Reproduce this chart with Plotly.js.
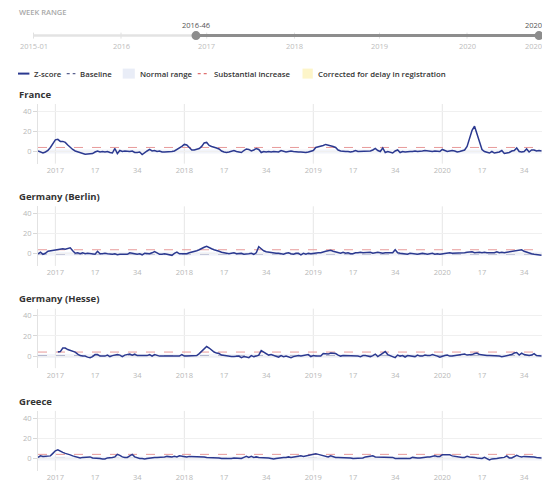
<!DOCTYPE html>
<html><head><meta charset="utf-8">
<script src="https://cdn.plot.ly/plotly-3.0.1.min.js"></script>
<style>html,body{margin:0;padding:0;background:#fff;overflow:hidden}#chart{width:542px;height:480px}</style>
</head><body><div id="chart"></div>
<script>
// ---- data ----
const countries = ['France', 'Germany (Berlin)', 'Germany (Hesse)', 'Greece'];
const franceZ = [
 0.5,-0.5,-1.5,-0.5,1,4,8,11.5,12,10,
 10,9,6.5,4,2,0.5,-0.5,-1.5,-2.5,-2.8,
 -2.5,-2.5,-2,-0.5,0.5,-0.5,0,-0.5,0,-1,
 -1.5,3,-2,1,0,0.5,0,0,0.5,-1,
 -1,-0.5,-3,-1,0.5,2,0.5,1,0,0.5,
 -0.5,-0.5,-0.5,0,0,0.5,2,3,5,7,
 6.5,4,1.5,1.5,2.5,3,5,8.5,9,6,
 5,4.5,3.5,2.5,0.5,-0.5,-1,-0.5,0.5,1,
 0,-0.5,-1,1,2.5,2,0.5,1.5,3,2,
 -1,0,-0.5,0,-0.5,0,0,-0.5,1,0,
 -0.5,0,0.5,0,-0.5,-0.5,-0.5,-1,-1,-0.5,
 0,1,4,4.5,5,6,7,6.5,6,5,
 4,1.5,0.5,0,0,0,-0.5,0,1,0,
 0,0.5,0,0,0.5,1.5,3,1,0,3.5,
 -1,0,-0.5,-1.5,0.5,1.5,-1,0,-0.5,0,
 0,0,0.5,0,0,0.5,1,0.5,0.5,0,
 0.5,0.5,0,2,1,0,0.5,1,0.5,-0.5,
 0,0.5,1.5,5,13,21,25,17,8,2,
 0,-1,-1.5,0,-1.5,-1,-0.5,1,-2,-1.5,
 -1,0.5,1,3.5,0,-0.5,0,2.5,-0.5,1.5,
 1.5,0.5,1,0.5];
const berlinZ = [
 0,1.5,-0.5,0.5,2.5,3,3,3.5,4,4.5,
 5,4.5,5,6,3,0.5,1,0,1,0,
 0.5,0,-0.5,-0.5,2.5,0,0,0.5,0,-0.5,
 -0.5,0,-1,-0.5,-0.5,0,-0.5,1,0.5,-0.5,
 -0.5,0,-1,0.5,0.5,0,1,2.3,1,-0.5,
 -0.5,0,-0.5,-1,-1.5,0.5,1.6,0,0,0.5,
 0,1,1.5,2.5,3,4,5.5,6.5,7.5,6,
 5,4,3.5,2.5,1.5,1,1,0,0.5,1,
 0,0.5,0.5,-0.5,-0.5,0,0.5,-0.5,1,7,
 5,3,2,1.5,1.5,1,0.5,0.5,0,-0.5,
 0.5,1,0,-0.5,0.5,0.5,-1,0.5,-0.5,0.5,
 0,0.5,0.5,1,1,2,2.5,3,3.5,2.5,
 2,1.5,0.5,1.5,0.5,1,0,0,1,1,
 1.5,1,1,1.5,1.5,0.5,1,1.5,1,0.5,
 1,1,0.5,1,4,1,0.5,0,0,-0.5,
 0.5,0,-0.5,-0.5,0,0.5,0,-0.5,0,0.5,
 -0.5,0,-0.5,0,0.5,0.5,1,0.5,0.5,0.5,
 0.5,1,1,1.5,2,2,1,1.5,1.5,1,
 1.5,1,1,1.5,1,2,1,1.5,1,1.5,
 2,2,2.5,3,3.5,4,2.5,1.5,0.5,0,
 -0.5,-1,-1.5,-1.5];
const hesseZ = [
 null,null,null,null,null,null,null,null,4,4.5,
 8,8,6.5,5.5,5,4,2,0.5,0,0,
 -1,-1.5,-0.5,1.5,1.5,0,0,0,1,-0.5,
 0.5,1,1.5,1,-0.5,1,1.5,2,1,2,
 0.5,0.5,0,0,0.5,1.5,0,1.5,0.5,0,
 0,0,-0.5,0,0,0,0,0,1.5,0,
 0,0,0,0,0.5,2.5,5,8,9.5,8,
 6,4,3,2.5,1,0.5,0,0,-0.5,-0.5,
 0,0,-1.5,-0.5,-1,-1.5,0.5,-0.5,0,1,
 5.5,4,2.5,1,1.5,0.5,0,-1,0.5,-0.5,
 0,-1,-1.5,-0.5,0,0.5,0,0.5,0.5,1.5,
 -0.5,0.5,0,0,0,2.5,2,2,3,2.5,
 2.5,1,0,0.5,0.5,0,0,0.5,0.5,0,
 -0.5,0.5,0.5,0,-0.5,0.5,2,-0.5,1,3,
 4.5,1.5,0.5,0,-1.5,1,0,0.5,-1,0.5,
 0,0,-0.5,1,0,0,1,0.5,0.5,1.5,
 1,0,-1,0,0.5,1,0,0,0.5,1,
 1.5,2,2,1,1,1.5,2.5,3,1.5,1,
 0.5,0.5,0.5,0.5,0.5,0,0,-0.5,0,0.5,
 1,1.5,3,3.5,1,3,1.5,1,0.5,1,
 2.5,0.5,0,0];
const greeceZ = [
 1,2.5,2,2,2,2.5,5,7.5,8.5,7,
 6,5,4.5,3.5,2.5,2,1,0.5,1,1,
 1,1.5,0.5,0.5,0,0,-0.5,-0.5,0.5,0.5,
 1,1.5,4,3,1.5,1,1,2.5,4,1.5,
 0.5,0,0,-0.5,0,0.5,1,1,1,1,
 1.5,1.5,2,1.5,1.5,2,1.5,2.5,2,2,
 1.5,2,2,2,1.5,2,1.5,1.5,1,1,
 1,0.5,0.5,0.5,0,0,-0.5,-0.5,0,0.5,
 0.5,0.5,0,1,2,1,2,1,1.5,1,
 1,0.5,0.5,0.5,0,-0.5,0,0.5,0.5,1,
 1,1.5,1,1.5,2,2,2.5,2,2.5,3,
 3,3.5,4.5,4,3.5,3,2.5,1.5,2.5,1.5,
 1,1,1,0.5,0.5,0.5,0.5,0,0,0,
 0,0.5,1.5,2,2.5,2.5,1.5,1.5,1,1.5,
 1,1,1.5,1,0,0,0,-0.5,0,0,
 0,1,0.5,0.5,0.5,1,1.5,1.5,1.5,2,
 2.5,2,2,3.5,3.5,3.5,3.5,2.5,2,1.5,
 1.5,1,1,2,1.5,1.5,1,0.5,0.5,0,
 1,0,-1.5,-0.5,-0.5,0,0.5,0.5,1,2.5,
 0.5,0.5,1.5,3,2,1.5,2,2,1.5,2,
 1.5,1,0.5,0.5];
const seriesZ = [franceZ, berlinZ, hesseZ, greeceZ];

const BASELINE = 0, NORMAL_LOW = -2, NORMAL_HIGH = 2, SUBSTANTIAL = 4;
const yTicks = [0, 20, 40];
const tickWeeks = ['2017-01','2017-17','2017-34','2018-01','2018-17','2018-34','2019-01','2019-17','2019-34','2020-01','2020-17','2020-34'];
const tickLabels = ['2017','17','34','2018','17','34','2019','17','34','2020','17','34'];
const yearStarts = ['2017-01','2018-01','2019-01','2020-01'];
const legendLabels = ['Z-score','Baseline','Normal range','Substantial increase','Corrected for delay in registration'];
const sliderLabels = ['2015-01','2016','2017','2018','2019','2020','2020-44'];
const sliderFrom = '2016-46', sliderTo = '2020-44';

// week categories (ISO weeks per year)
const weeksInYear = {2016:52, 2017:52, 2018:52, 2019:52, 2020:53};
const weeks = [];
{ let yr = 2016, wk = 46;
  while (weeks.length < franceZ.length) {
    weeks.push(yr + '-' + String(wk).padStart(2, '0'));
    wk++; if (wk > weeksInYear[yr]) { yr++; wk = 1; }
  } }

// ---- layout helpers (pixels -> paper) ----
const W = 542, H = 480;
const X = p => p / W, Y = p => 1 - p / H;
const FONT = 'Open Sans, sans-serif';
const NAVY = '#2b3990', BASE_C = '#5a628f', RED_C = '#e79a9a', BAND_C = '#e9edf7', YEL_C = '#fdf5c9';
const panelZero = [151.5, 253.8, 356.1, 458.4];
const yRange = [-12, 47];
const pxPerUnit = 1.01;

const layout = {
  width: W, height: H, margin: {l:0, r:0, t:0, b:0},
  paper_bgcolor: '#fff', plot_bgcolor: 'rgba(0,0,0,0)', showlegend: false,
  font: {family: FONT, color: '#444'}, shapes: [], annotations: []
};
const traces = [];

seriesZ.forEach((z, k) => {
  const n = k === 0 ? '' : String(k + 1);
  const top = panelZero[k] - yRange[1] * pxPerUnit;
  const bot = panelZero[k] - yRange[0] * pxPerUnit;
  layout['xaxis' + n] = {
    domain: [X(38), 1], type: 'category', categoryorder: 'array', categoryarray: weeks,
    range: [0, 203.2], anchor: 'y' + n, tickmode: 'array', tickvals: tickWeeks, ticktext: tickLabels,
    showgrid: false, zeroline: false, showline: false, ticks: '', ticklabelstandoff: 1,
    tickfont: {family: FONT, size: 7.5, color: '#b8b8b8'}, fixedrange: true
  };
  layout['yaxis' + n] = {
    domain: [Y(bot), Y(top)], anchor: 'x' + n, range: yRange, tickmode: 'array', tickvals: yTicks,
    showgrid: true, gridcolor: '#f0f0f0', gridwidth: 1, zeroline: false, showline: true, linecolor: '#e2e2e2',
    ticks: 'outside', ticklen: 4, tickcolor: '#d8d8d8', tickfont: {family: FONT, size: 7.5, color: '#b8b8b8'},
    fixedrange: true
  };
  const xr = 'x' + n, yr = 'y' + n;
  layout.shapes.push({type:'rect', layer:'below', xref: xr + ' domain', yref: yr, x0:0, x1:1, y0:NORMAL_LOW, y1:NORMAL_HIGH, fillcolor: BAND_C, opacity: 0.6, line:{width:0}});
  yearStarts.forEach(ys => layout.shapes.push({type:'line', layer:'below', xref: xr, yref: yr + ' domain', x0: ys, x1: ys, y0: 0, y1: 1, line:{color:'#e6e6e6', width:1}}));
  layout.shapes.push({type:'line', layer:'below', xref: xr + ' domain', yref: yr, x0:0, x1:1, y0:BASELINE, y1:BASELINE, line:{color: BASE_C, width:1, dash:'dash'}});
  layout.shapes.push({type:'line', layer:'below', xref: xr + ' domain', yref: yr, x0:0, x1:1, y0:SUBSTANTIAL, y1:SUBSTANTIAL, line:{color: RED_C, width:1, dash:'dash'}});
  layout.annotations.push({xref:'paper', yref:'paper', x: X(17), y: Y(panelZero[k] - 57.3), xanchor:'left', yanchor:'middle', showarrow:false,
    text: countries[k], font:{family: FONT, size: 9.5, color:'#333', weight: 700}});
  traces.push({type:'scatter', mode:'lines', x: weeks, y: z, xaxis: xr, yaxis: yr,
    line:{color: NAVY, width: 1.5}, connectgaps:false, hoverinfo:'skip'});
});

// ---- slider (decorative header) ----
const sY = 35.6;
const sliderPos = [33.5, 121, 206.7, 294.5, 379.5, 467, 539];
const knobA = 196, knobB = 539;
layout.annotations.push({xref:'paper', yref:'paper', x:X(17), y:Y(12.4), xanchor:'left', yanchor:'middle', showarrow:false,
  text:'WEEK RANGE', font:{family: FONT, size:7.5, color:'#a8a8a8', weight:600}});
sliderPos.forEach(p => layout.shapes.push({type:'line', xref:'paper', yref:'paper', x0:X(p), x1:X(p), y0:Y(sY-3), y1:Y(sY+3), line:{color:'#e0e0e0', width:1}}));
layout.shapes.push({type:'line', xref:'paper', yref:'paper', x0:X(33.5), x1:X(knobA), y0:Y(sY), y1:Y(sY), line:{color:'#e3e3e3', width:2.5}});
layout.shapes.push({type:'line', xref:'paper', yref:'paper', x0:X(knobA), x1:X(knobB), y0:Y(sY), y1:Y(sY), line:{color:'#8d8d8d', width:3}});
[knobA, knobB].forEach(p => layout.shapes.push({type:'circle', xref:'paper', yref:'paper', x0:X(p-4.5), x1:X(p+4.5), y0:Y(sY+4.5), y1:Y(sY-4.5), fillcolor:'#8d8d8d', line:{width:0}}));
layout.annotations.push({xref:'paper', yref:'paper', x:X(knobA), y:Y(25.2), xanchor:'center', yanchor:'middle', showarrow:false, text: sliderFrom, font:{family:FONT, size:7.5, color:'#555'}});
layout.annotations.push({xref:'paper', yref:'paper', x:X(knobB), y:Y(25.2), xanchor:'center', yanchor:'middle', showarrow:false, text: sliderTo, font:{family:FONT, size:7.5, color:'#555'}});
sliderLabels.forEach((t, i) => layout.annotations.push({xref:'paper', yref:'paper', x:X(sliderPos[i]), y:Y(46), xanchor:'center', yanchor:'middle', showarrow:false,
  text: t, font:{family:FONT, size:7.5, color:'#bdbdbd'}}));

// ---- legend row ----
const lY = 73.6;
layout.shapes.push({type:'line', xref:'paper', yref:'paper', x0:X(18), x1:X(29.4), y0:Y(lY), y1:Y(lY), line:{color:NAVY, width:2}});
layout.shapes.push({type:'line', xref:'paper', yref:'paper', x0:X(66.7), x1:X(75.4), y0:Y(lY), y1:Y(lY), line:{color:BASE_C, width:1.3, dash:'dot'}});
layout.shapes.push({type:'rect', xref:'paper', yref:'paper', x0:X(122.7), x1:X(134.8), y0:Y(lY+5), y1:Y(lY-5), fillcolor:BAND_C, line:{width:0}});
layout.shapes.push({type:'line', xref:'paper', yref:'paper', x0:X(197.7), x1:X(209), y0:Y(lY), y1:Y(lY), line:{color:'#e07070', width:1.3, dash:'dot'}});
layout.shapes.push({type:'rect', xref:'paper', yref:'paper', x0:X(302.5), x1:X(312.8), y0:Y(lY+5), y1:Y(lY-5), fillcolor:YEL_C, line:{width:0}});
const legX = [32, 78, 138.2, 211.8, 315.5];
legendLabels.forEach((t, i) => layout.annotations.push({xref:'paper', yref:'paper', x:X(legX[i]), y:Y(lY), xanchor:'left', yanchor:'middle', showarrow:false,
  text: t, font:{family:FONT, size:7.8, color:'#333', weight:600}}));

Plotly.newPlot('chart', traces, layout, {displayModeBar:false, staticPlot:true});
</script>
</body></html>
